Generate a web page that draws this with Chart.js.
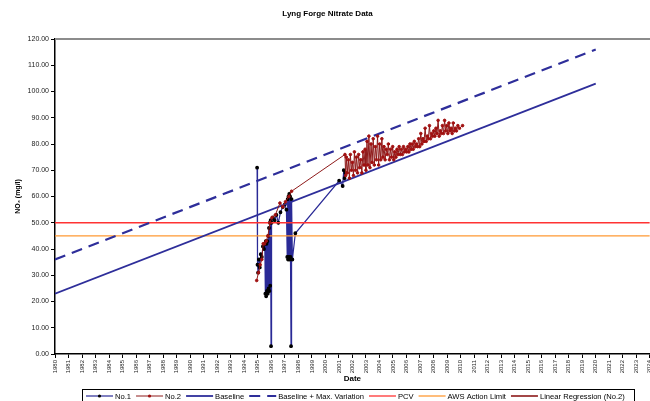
<!DOCTYPE html>
<html>
<head>
<meta charset="utf-8">
<script src="https://cdn.jsdelivr.net/npm/chart.js@4.4.0/dist/chart.umd.min.js"></script>
<style>
  html, body { margin: 0; padding: 0; background: #fff; overflow: hidden; }
  canvas { display: block; }
</style>
</head>
<body>
<canvas id="nitrateChart" width="655" height="401"></canvas>
<script>
// No.1 borehole samples (decimal year, mg/l)
const no1Dates = [
  1994.95, 1994.98, 1995.02, 1995.08, 1995.15, 1995.22, 1995.30, 1995.38, 1995.46, 1995.52,
  1995.56, 1995.59, 1995.62, 1995.65, 1995.68, 1995.71, 1995.74, 1995.77, 1995.80, 1995.83,
  1995.86, 1995.89, 1995.92, 1995.95, 1995.98, 1996.02, 1996.12, 1996.25, 1996.38, 1996.52,
  1996.68, 1996.85, 1997.00, 1997.12, 1997.18, 1997.21, 1997.24, 1997.27, 1997.30, 1997.33,
  1997.36, 1997.39, 1997.42, 1997.46, 1997.50, 1997.56, 1997.78, 2001.02, 2001.28, 2001.36,
  2001.42, 2001.48
]
const no1Values = [
  71, 34, 31, 36, 33, 38, 37, 41, 40, 42,
  23, 43, 22, 42, 24, 43, 23, 45, 25, 48,
  24, 50, 26, 51, 3, 50, 52, 51, 53, 50,
  54, 56, 57, 55, 37, 59, 36, 60, 37, 61,
  36, 60, 37, 3, 59, 36, 46, 66, 64, 70,
  67, 69
]

// No.2 borehole samples
const no2Dates = [
  1994.92, 1995.05, 1995.18, 1995.30, 1995.40, 1995.50, 1995.62, 1995.75, 1995.90, 1996.05,
  1996.30, 1996.64, 1996.85, 1997.05, 1997.30, 1997.50,
  2001.45, 2001.50, 2001.55, 2001.62, 2001.70, 2001.78, 2001.85, 2001.93, 2002.00, 2002.08,
  2002.15, 2002.23, 2002.30, 2002.38, 2002.46, 2002.54, 2002.62, 2002.70, 2002.78, 2002.86,
  2002.94, 2003.00, 2003.08, 2003.15, 2003.22, 2003.30, 2003.38, 2003.46, 2003.54, 2003.62,
  2003.70, 2003.78, 2003.86, 2003.94, 2004.02, 2004.10, 2004.18, 2004.26, 2004.34, 2004.42,
  2004.50, 2004.58, 2004.66, 2004.74, 2004.82, 2004.90, 2004.98, 2005.06, 2005.14, 2005.22,
  2005.30, 2005.38, 2005.46, 2005.54, 2005.62, 2005.70, 2005.78, 2005.86, 2005.94, 2006.02,
  2006.10, 2006.18, 2006.26, 2006.34, 2006.42, 2006.50, 2006.58, 2006.66, 2006.74, 2006.82,
  2006.90, 2006.98, 2007.06, 2007.14, 2007.22, 2007.30, 2007.38, 2007.46, 2007.54, 2007.62,
  2007.70, 2007.78, 2007.86, 2007.94, 2008.02, 2008.10, 2008.18, 2008.26, 2008.34, 2008.42,
  2008.50, 2008.58, 2008.66, 2008.74, 2008.82, 2008.90, 2008.98, 2009.06, 2009.14, 2009.22,
  2009.30, 2009.38, 2009.46, 2009.54, 2009.62, 2009.70, 2009.80, 2009.92, 2010.15
]
const no2Values = [
  28, 31, 34, 36, 42, 42, 43, 45, 50, 52,
  53, 57.5, 56, 58, 60, 62,
  76, 68, 75, 69, 74, 67, 76, 70, 73, 68,
  77, 70, 75, 69, 76, 71, 74, 69, 77, 72,
  78, 70, 81, 72, 83, 71, 80, 73, 82, 72,
  79, 74, 83, 72, 80, 74, 82, 75, 79, 74,
  78, 76, 80, 74, 78, 75, 79, 74, 77, 75,
  78, 76, 79, 76, 78, 76, 79, 77, 78, 77,
  79, 77, 80, 78, 80, 78, 81, 79, 80, 79,
  82, 79, 84, 80, 82, 81, 86, 81, 83, 82,
  87, 82, 84, 83, 85, 83, 86, 84, 89, 83,
  85, 84, 87, 84, 89, 85, 87, 84, 88, 85,
  86, 84, 88, 85, 86, 85, 87, 86, 87
]

// reference lines
const baselineDates = [1980, 2020]
const baselineValues = [23, 103]
const maxVariationValues = [36, 116]
const limitDates = [1980, 2024]
const pcvValue = 50
const awsValue = 45

const yTicks = [0, 10, 20, 30, 40, 50, 60, 70, 80, 90, 100, 110, 120]

const toPoints = (xs, ys) => xs.map((x, i) => ({ x: x, y: ys[i] }))

const FONT = 'Liberation Sans, Arial, sans-serif'

// legend drawn as one bordered row under the axis title
const boxLegend = {
  id: 'boxLegend',
  afterDraw(chart) {
    const ctx = chart.ctx
    const sets = chart.data.datasets
    ctx.save()
    ctx.font = '7.6px ' + FONT
    ctx.textBaseline = 'middle'
    const y = 396
    let x = 86
    const sample = 27
    ctx.strokeStyle = '#000'
    ctx.lineWidth = 1
    ctx.strokeRect(82.5, 389.5, 552, 14)
    sets.forEach(ds => {
      ctx.save()
      ctx.strokeStyle = ds.borderColor
      ctx.lineWidth = ds.borderWidth
      ctx.setLineDash(ds.borderDash || [])
      ctx.beginPath()
      ctx.moveTo(x, y)
      ctx.lineTo(x + sample, y)
      ctx.stroke()
      if (ds.pointRadius > 0) {
        ctx.fillStyle = ds.pointBackgroundColor
        ctx.beginPath()
        ctx.arc(x + sample / 2, y, 1.6, 0, Math.PI * 2)
        ctx.fill()
      }
      ctx.restore()
      ctx.fillStyle = '#000'
      ctx.fillText(ds.label, x + sample + 2, y + 0.5)
      x += sample + 2 + ctx.measureText(ds.label).width + 5
    })
    ctx.restore()
  }
}

// grey frame along the top of the plot area
const plotFrame = {
  id: 'plotFrame',
  beforeDatasetsDraw(chart) {
    const a = chart.chartArea
    const ctx = chart.ctx
    ctx.save()
    ctx.strokeStyle = '#8c8c8c'
    ctx.lineWidth = 2
    ctx.beginPath()
    ctx.moveTo(a.left, a.top)
    ctx.lineTo(a.right + 5, a.top)
    ctx.stroke()
    ctx.restore()
  }
}

new Chart(document.getElementById('nitrateChart'), {
  type: 'scatter',
  data: {
    datasets: [
      {
        label: 'No.1',
        data: toPoints(no1Dates, no1Values),
        showLine: true,
        borderColor: '#2a2a96',
        borderWidth: 1.2,
        pointRadius: 1.3,
        pointBackgroundColor: '#000',
        pointBorderColor: '#000',
        order: 5
      },
      {
        label: 'No.2',
        data: toPoints(no2Dates, no2Values),
        showLine: true,
        borderColor: '#8e1a1a',
        borderWidth: 1,
        pointRadius: 1.3,
        pointBackgroundColor: '#a01010',
        pointBorderColor: '#a01010',
        order: 1
      },
      {
        label: 'Baseline',
        data: toPoints(baselineDates, baselineValues),
        showLine: true,
        borderColor: '#2e2e9a',
        borderWidth: 1.8,
        pointRadius: 0,
        order: 2
      },
      {
        label: 'Baseline + Max. Variation',
        data: toPoints(baselineDates, maxVariationValues),
        showLine: true,
        borderColor: '#2e2e9a',
        borderWidth: 2.2,
        borderDash: [11, 7],
        pointRadius: 0,
        order: 2
      },
      {
        label: 'PCV',
        data: toPoints(limitDates, [pcvValue, pcvValue]),
        showLine: true,
        borderColor: '#ff3333',
        borderWidth: 1.3,
        pointRadius: 0,
        order: 3
      },
      {
        label: 'AWS Action Limit',
        data: toPoints(limitDates, [awsValue, awsValue]),
        showLine: true,
        borderColor: '#ff9933',
        borderWidth: 1.3,
        pointRadius: 0,
        order: 3
      },
      {
        label: 'Linear Regression (No.2)',
        data: [],
        showLine: true,
        borderColor: '#993333',
        borderWidth: 1.8,
        pointRadius: 0,
        order: 4
      }
    ]
  },
  options: {
    responsive: false,
    animation: false,
    events: [],
    layout: { padding: { left: 0, right: 0, top: 0, bottom: 17 } },
    plugins: {
      legend: { display: false },
      tooltip: { enabled: false },
      title: {
        display: true,
        text: 'Lyng Forge Nitrate Data',
        color: '#000',
        font: { family: FONT, size: 8, weight: 'bold' },
        padding: { top: 9, bottom: 20.4 }
      }
    },
    scales: {
      x: {
        type: 'linear',
        min: 1980,
        max: 2024,
        afterFit(scale) {
          scale.height = 30
          scale.paddingLeft = 0
          scale.paddingRight = 0
        },
        ticks: {
          stepSize: 1,
          autoSkip: false,
          minRotation: 90,
          maxRotation: 90,
          padding: 2,
          color: '#222',
          font: { family: FONT, size: 6 },
          callback: v => String(v)
        },
        grid: { drawOnChartArea: false, drawTicks: true, tickLength: 4, color: '#000' },
        border: { display: true, color: '#000', width: 1.5 },
        title: {
          display: true,
          text: 'Date',
          color: '#000',
          font: { family: FONT, size: 8, weight: 'bold' },
          padding: { top: 0, bottom: 0 }
        }
      },
      y: {
        min: 0,
        max: 120,
        afterFit(scale) { scale.width = 55 },
        afterBuildTicks(scale) { scale.ticks = yTicks.map(v => ({ value: v })) },
        ticks: {
          padding: 2,
          color: '#222',
          font: { family: FONT, size: 7 },
          callback: v => v.toFixed(2)
        },
        grid: { drawOnChartArea: false, drawTicks: true, tickLength: 4, color: '#000' },
        border: { display: true, color: '#000', width: 1.5 },
        title: {
          display: true,
          text: 'NO\u2083 (mg/l)',
          color: '#000',
          font: { family: FONT, size: 7, weight: 'bold' },
          padding: { top: 14, bottom: 0 }
        }
      }
    }
  },
  plugins: [plotFrame, boxLegend]
})
</script>
</body>
</html>
